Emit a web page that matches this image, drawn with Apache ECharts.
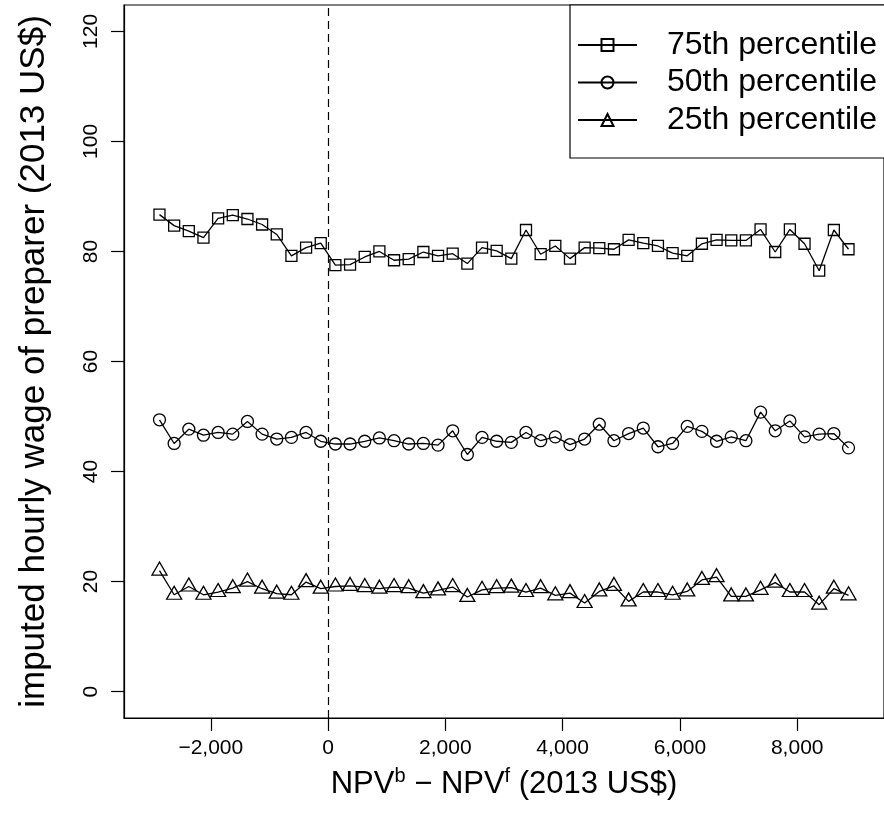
<!DOCTYPE html>
<html>
<head>
<meta charset="utf-8">
<script src="https://cdn.jsdelivr.net/npm/echarts@6/dist/echarts.min.js"></script>
<style>
html,body{margin:0;padding:0;background:#fff;}
#c{width:884px;height:824px;}
</style>
</head>
<body>
<div id="c"></div>
<script>
// ---- data ----
const xValues = [-2875,-2625,-2375,-2125,-1875,-1625,-1375,-1125,-875,-625,-375,-125,
  125,375,625,875,1125,1375,1625,1875,2125,2375,2625,2875,
  3125,3375,3625,3875,4125,4375,4625,4875,5125,5375,5625,5875,
  6125,6375,6625,6875,7125,7375,7625,7875,8125,8375,8625,8875];
const p75 = [86.7,84.7,83.7,82.5,86.0,86.6,85.9,84.9,83.1,79.2,80.7,81.5,
  77.5,77.6,79.0,80.0,78.4,78.6,79.9,79.2,79.6,77.8,80.7,80.1,
  78.7,83.9,79.5,81.0,78.7,80.7,80.6,80.4,82.1,81.5,81.0,79.7,
  79.2,81.4,82.1,82.0,82.0,84.0,79.9,84.0,81.4,76.5,83.9,80.4];
const p50 = [49.4,45.1,47.7,46.6,47.1,46.8,49.1,46.8,45.9,46.2,47.1,45.5,
  45.0,45.0,45.5,46.1,45.6,45.0,45.1,44.8,47.4,43.1,46.2,45.5,
  45.3,47.1,45.6,46.3,44.9,45.9,48.6,45.6,46.9,47.9,44.5,45.1,
  48.2,47.3,45.5,46.3,45.6,50.8,47.4,49.2,46.3,46.8,46.9,44.3];
const p25 = [22.0,17.6,19.1,17.6,18.1,18.8,20.0,18.7,17.8,17.6,19.9,18.7,
  19.1,19.2,19.0,18.7,19.0,18.8,17.9,18.4,19.0,17.2,18.5,18.8,
  18.9,18.1,18.8,17.5,17.9,16.1,18.2,19.2,16.4,18.1,18.1,17.6,
  18.2,20.3,20.8,17.3,17.3,18.5,19.8,18.1,18.1,15.8,18.7,17.5];
const seriesNames = ['75th percentile','50th percentile','25th percentile'];
const xTicks = [-2000,0,2000,4000,6000,8000];
const yTicks = [0,20,40,60,80,100,120];
const xLabel = '{n|NPV}{s|b}{n| \u2212 NPV}{s|f}{n| (2013 US$)}';
const yLabel = 'imputed hourly wage of preparer (2013 US$)';

const FONT = '"Liberation Sans", Arial, Helvetica, sans-serif';
const pairs = arr => xValues.map((x, i) => [x, arr[i]]);
const fmtX = v => (v < 0 ? '\u2212' : '') + Math.abs(v).toLocaleString('en-US');

const markStyle = { color: 'transparent', borderColor: '#000', borderWidth: 1.3 };
function mkSeries(name, data, symbol, size, offset) {
  return {
    name, type: 'line', data: pairs(data),
    symbol, symbolSize: size, symbolOffset: offset || [0, 0],
    showAllSymbol: true,
    lineStyle: { color: '#000', width: 1.3 },
    itemStyle: markStyle,
    emphasis: { disabled: true },
    z: 3
  };
}

const chart = echarts.init(document.getElementById('c'), null, { renderer: 'canvas' });
const s75 = mkSeries(seriesNames[0], p75, 'rect', 11);
s75.markLine = {
  silent: true, symbol: 'none', label: { show: false },
  lineStyle: { color: '#000', width: 1.2, type: [8, 5] },
  data: [{ xAxis: 0 }]
};
chart.setOption({
  animation: false,
  backgroundColor: '#fff',
  textStyle: { fontFamily: FONT, color: '#000' },
  grid: { left: 124, right: -7, top: 5, bottom: 106, show: true, borderColor: '#000', borderWidth: 1.2, backgroundColor: 'transparent' },
  xAxis: {
    type: 'value', min: -3480, max: 9480,
    axisLine: { show: true, onZero: false, lineStyle: { color: '#000', width: 1.2 } },
    axisTick: { show: true, length: 13, customValues: xTicks, lineStyle: { color: '#000', width: 1.2 } },
    axisLabel: { customValues: xTicks, formatter: fmtX, fontSize: 21, margin: 20, color: '#000', fontFamily: FONT },
    splitLine: { show: false },
    name: xLabel, nameLocation: 'middle', nameGap: 48,
    nameTextStyle: {
      color: '#000', fontFamily: FONT,
      rich: {
        n: { fontSize: 31, fontFamily: FONT, color: '#000', lineHeight: 36 },
        s: { fontSize: 20, fontFamily: FONT, color: '#000', verticalAlign: 'top', lineHeight: 36, padding: [0, 0, 12, 0] }
      }
    }
  },
  yAxis: {
    type: 'value', min: -4.8, max: 124.8,
    axisLine: { show: true, onZero: false, lineStyle: { color: '#000', width: 1.2 } },
    axisTick: { show: true, length: 13, customValues: yTicks, lineStyle: { color: '#000', width: 1.2 } },
    axisLabel: { customValues: yTicks, rotate: 90, fontSize: 21, margin: 22, color: '#000', fontFamily: FONT },
    splitLine: { show: false },
    name: yLabel, nameLocation: 'middle', nameRotate: 90, nameGap: 72,
    nameTextStyle: { fontSize: 35, color: '#000', fontFamily: FONT }
  },
  legend: {
    data: seriesNames,
    orient: 'vertical', left: 570, top: 5,
    padding: [24, 40, 22, 7],
    itemGap: 5.5, itemWidth: 59, itemHeight: 15,
    borderColor: '#000', borderWidth: 1.2,
    backgroundColor: '#fff',
    formatter: name => '{g|}{t|' + name + '}',
    textStyle: {
      color: '#000', fontFamily: FONT,
      rich: {
        g: { width: 25 },
        t: { fontSize: 32, lineHeight: 36, fontFamily: FONT, color: '#000' }
      }
    }
  },
  series: [
    s75,
    mkSeries(seriesNames[1], p50, 'circle', 12),
    mkSeries(seriesNames[2], p25, 'triangle', [15, 13], [0, -2])
  ]
});
</script>
</body>
</html>
